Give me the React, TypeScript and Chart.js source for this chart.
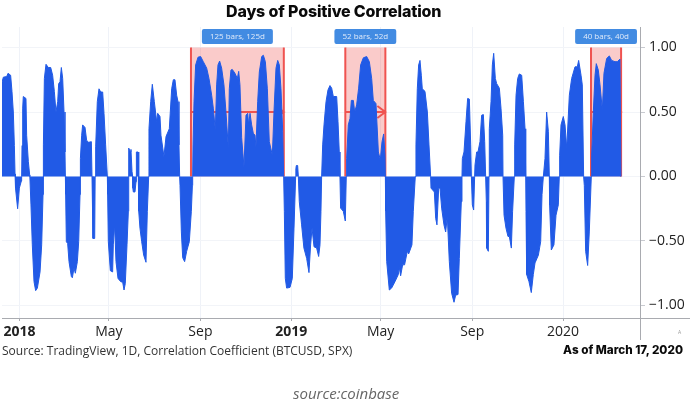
import { useEffect, useRef } from "react";
import { Chart, registerables } from "chart.js";

Chart.register(...registerables);

// days since 2018-01-01, vertices (one line per swing, same layout in both arrays)
const corrDays = [
  -24, -21.7, -17.2, -15.4, -11.9, -10.1, -8.3, -6.9, -6,
  -5.6, -5.1, -2.5, -0.2, 2.5, 2.9,
  3.4, 4.3, 5.1, 8.7, 9.6, 11.9, 13.7,
  13.9, 15.4, 17.2, 19.5, 21.7, 24, 27.6, 29.8, 31.6, 32,
  32.2, 33.4, 35.6, 38.7, 41.9, 44.5, 46.8, 49, 51.3, 52.6, 54.4, 56.2, 58, 59.8, 61.1, 61.6,
  62, 62.9, 64.7, 66.5, 69.6, 71, 73.2, 75, 77.7, 79.5, 81.3, 81.7,
  81.9, 83.5, 84.8, 88, 90.2, 92.9, 96.5, 97.4,
  98.7, 101, 101.6,
  101.9, 102.7, 104.5, 106.8, 109, 111.7, 113.5, 115.7, 118,
  118.4, 119.3, 122, 125.1, 126, 127.8, 129.6, 132.3, 135.9, 138.6, 140.4, 142.1, 144.4, 146.2, 146.6,
  146.8, 148.9, 149.7, 151.1, 152,
  152.2, 152.9, 155.1, 156.5, 156.9,
  157.1, 159.2, 160,
  160.3, 161.8, 164.1, 166.8, 169.9, 171.7, 173.5,
  173.9, 176.2, 178.4, 181.1, 184.2, 185.6, 188.7, 190, 194, 196.8, 201.2, 204.4, 206.6, 208.8, 211.1, 212.9, 214.2, 215.1,
  215.6, 217.4, 219.2, 221.8, 224.5, 228.1, 230.8, 232.2, 232.6,
  233.1, 234.4, 236.6, 239.8, 243.3, 246.9, 251.4, 254.5, 258.1, 260.3, 263, 264.8, 266.6, 268.8, 271.5, 274.6, 277.3, 280.5,
  281.8, 284, 285.8, 289.4, 292.6, 294.4, 296.1, 298.4, 301.5, 304.2, 306.5, 307.8, 309.6, 311.8, 314, 316.3, 317.6,
  319.9, 322.1, 325.3, 327.5, 330.2, 332.9, 335.5, 339.6, 341.8, 344.5, 346.8, 349, 351.2, 353.5, 354.8,
  355.7, 357, 358.8, 363.3, 366.4, 368.7, 370.9,
  371.2, 371.8, 373.6, 374.5,
  375.8, 378.9, 382, 385.7, 388.8, 391, 392.9, 395.6, 399.1, 401.8, 403.6, 404.9, 405.8,
  407.2, 409, 411.7, 414.3, 417, 419.3, 421.5, 426, 427.8, 429.5, 430.4,
  431.3, 434.9, 437.6, 438.9,
  439.4, 441.6, 443.9, 445.7, 448.4, 450.2, 452.8, 455.5, 458.2, 461.8, 466.3, 469.9, 473, 475.2, 478.8, 482, 484.6, 486.9, 489.1, 490.9, 491.4,
  491.8, 493.2, 496.7, 499.8, 504.3, 508.8, 510.1, 511.9, 514.6, 517.2, 520.9, 522.7, 527.1, 528.9, 531.6,
  532.5, 534.3, 536.1, 537.9, 539.7, 541, 544.6, 547.8, 550, 552.2,
  552.7, 554.9, 557.2, 559, 560.7, 563, 564.8, 567, 570.1, 572.4, 574.6, 577.3, 580.4, 583.6, 585.8, 589, 590.7, 593.4, 594.3,
  594.8, 597, 599.7, 601.9, 604.2, 606, 606.9,
  608.2, 610, 611.3,
  611.8, 614, 615.8, 618.5, 620.7, 623, 624.8, 626.1,
  627, 627.4, 629.7, 630.6,
  631, 633.3, 635.1, 636.9, 639.1, 640.9, 644.5, 646.7, 649, 649.4,
  650.8, 653.4, 656.1, 657.9, 660.6, 662.3, 664.6,
  665.1, 666.9, 669.1, 671.3, 674.5, 676.8, 679, 679.9,
  680.3, 681.2, 684.3, 687.4, 690.1, 692.4, 696.9, 700, 701.8, 703.6,
  705.8, 708, 710.3, 711.6,
  712, 714.3, 717.8, 720.6, 723.7, 725,
  725.5, 727.3, 730.4, 732.7, 735, 738.5, 741.6, 746.1, 749.2, 751, 754.2, 755.9, 757.7,
  758.6, 760.4, 763.1, 765.3, 768,
  768.5, 770.7, 773, 774.7, 777.4, 779.7, 782.8, 785, 788.6, 792.2, 795.3, 799.8, 802.9, 806.5, 807.8,
];
const corrValues = [
  0.72, 0.77, 0.775, 0.8, 0.785, 0.66, 0.5, 0.24, 0.02,
  0, -0.09, -0.25, -0.09, -0.035, 0,
  0.24, 0.53, 0.62, 0.605, 0.32, 0.115, 0.01,
  0, -0.22, -0.53, -0.815, -0.885, -0.865, -0.74, -0.53, -0.14, 0,
  0.245, 0.76, 0.87, 0.845, 0.845, 0.785, 0.66, 0.5, 0.58, 0.72, 0.735, 0.845, 0.76, 0.5, 0.19, 0,
  -0.14, -0.505, -0.52, -0.66, -0.775, -0.785, -0.71, -0.75, -0.66, -0.505, -0.14, 0,
  0.14, 0.32, 0.4, 0.38, 0.28, 0.265, 0.27, 0,
  -0.48, -0.48, 0,
  0.22, 0.23, 0.58, 0.68, 0.655, 0.655, 0.49, 0.245, 0,
  -0.14, -0.505, -0.73, -0.74, -0.53, -0.375, -0.66, -0.79, -0.815, -0.82, -0.88, -0.83, -0.53, -0.27, 0,
  0.22, 0.19, 0.21, 0.04, 0,
  -0.09, -0.12, -0.12, -0.04, 0,
  0.19, 0.19, 0,
  -0.27, -0.4, -0.505, -0.61, -0.665, -0.27, 0,
  0.37, 0.58, 0.715, 0.58, 0.425, 0.49, 0.465, 0.32, 0.155, 0.31, 0.37, 0.68, 0.75, 0.75, 0.63, 0.58, 0.245, 0,
  -0.07, -0.43, -0.63, -0.66, -0.58, -0.505, -0.27, -0.07, 0,
  0.245, 0.58, 0.865, 0.925, 0.93, 0.89, 0.84, 0.76, 0.63, 0.53, 0.36, 0.71, 0.865, 0.895, 0.84, 0.71, 0.5, 0.22,
  0.68, 0.825, 0.83, 0.8, 0.76, 0.815, 0.71, 0.3, 0.075, 0.475, 0.49, 0.4, 0.49, 0.4, 0.335, 0.32, 0.23,
  0.58, 0.81, 0.93, 0.94, 0.89, 0.68, 0.27, 0.165, 0.5, 0.84, 0.9, 0.865, 0.68, 0.35, 0,
  -0.27, -0.79, -0.865, -0.86, -0.79, -0.4, 0,
  0.06, 0.085, 0.085, 0,
  -0.195, -0.375, -0.555, -0.635, -0.745, -0.53, -0.4, -0.545, -0.555, -0.62, -0.53, -0.27, 0,
  0.245, 0.4, 0.58, 0.67, 0.705, 0.685, 0.62, 0.62, 0.425, 0.19, 0,
  -0.245, -0.27, -0.345, 0,
  0.14, 0.4, 0.45, 0.59, 0.59, 0.5, 0.555, 0.685, 0.865, 0.92, 0.93, 0.89, 0.76, 0.59, 0.565, 0.19, 0.13, 0.27, 0.33, 0.165, 0,
  -0.27, -0.66, -0.88, -0.865, -0.815, -0.76, -0.705, -0.77, -0.685, -0.685, -0.58, -0.6, -0.53, -0.27, 0,
  0.245, 0.68, 0.865, 0.9, 0.785, 0.68, 0.66, 0.5, 0.245, 0,
  -0.09, -0.105, -0.12, -0.325, -0.375, -0.09, -0.09, -0.245, -0.375, -0.43, -0.31, -0.66, -0.905, -0.975, -0.92, -0.915, -0.635, -0.195, 0,
  0.14, 0.19, 0.425, 0.605, 0.6, 0.245, 0,
  -0.22, -0.26, 0,
  0.09, 0.19, 0.19, 0.27, 0.475, 0.48, 0.27, 0,
  -0.195, -0.555, -0.58, 0,
  0.37, 0.58, 0.865, 0.955, 0.76, 0.72, 0.685, 0.53, 0.32, 0,
  -0.3, -0.4, -0.465, -0.465, -0.555, -0.27, 0,
  0.245, 0.63, 0.76, 0.795, 0.785, 0.58, 0.37, 0,
  -0.27, -0.76, -0.815, -0.9, -0.76, -0.67, -0.61, -0.505, -0.14, 0,
  0.14, 0.5, 0.35, 0,
  -0.22, -0.57, -0.53, -0.3, -0.22, 0,
  0.165, 0.4, 0.465, 0.4, 0.22, 0.63, 0.76, 0.85, 0.85, 0.9, 0.785, 0.71, 0,
  -0.07, -0.58, -0.69, -0.43, 0,
  0.165, 0.5, 0.785, 0.875, 0.825, 0.71, 0.515, 0.8, 0.915, 0.935, 0.9, 0.89, 0.89, 0.91, 0,
];

const xTickDays = [0, 120, 243, 365, 485, 608, 730];
const xTickLabels = ["2018", "May", "Sep", "2019", "May", "Sep", "2020"];
const yTickValues = [1, 0.5, 0, -0.5, -1];

// measured date ranges
const rangeStarts = [230.3, 437.6, 767.6];
const rangeEnds = [355, 491.4, 808];
const rangeLabels = ["125 bars, 125d", "52 bars, 52d", "40 bars, 40d"];

const FONT = '"Open Sans", sans-serif';
const RED = "#ef5350";

const rangesPlugin = {
  id: "ranges",
  beforeDatasetsDraw(chart: any) {
    const { ctx, scales } = chart;
    const y1 = scales.y.getPixelForValue(1);
    const y0 = scales.y.getPixelForValue(0);
    const yMid = scales.y.getPixelForValue(0.5);
    ctx.save();
    rangeStarts.forEach((start, i) => {
      const a = scales.x.getPixelForValue(start);
      const b = scales.x.getPixelForValue(rangeEnds[i]);
      ctx.fillStyle = "rgba(239, 83, 80, 0.3)";
      ctx.fillRect(a, y1, b - a, y0 - y1);
      ctx.strokeStyle = RED;
      ctx.lineWidth = 2;
      ctx.beginPath();
      ctx.moveTo(a, y1);
      ctx.lineTo(a, y0);
      ctx.moveTo(b, y1);
      ctx.lineTo(b, y0);
      ctx.moveTo(a, yMid);
      ctx.lineTo(b, yMid);
      ctx.moveTo(b - 8, yMid - 6);
      ctx.lineTo(b, yMid);
      ctx.lineTo(b - 8, yMid + 6);
      ctx.stroke();
    });
    ctx.restore();
  },
  afterDraw(chart: any) {
    const { ctx, scales, chartArea, width } = chart;
    ctx.save();
    // axis lines run past the plot area
    ctx.strokeStyle = "#a9abb0";
    ctx.lineWidth = 1;
    ctx.beginPath();
    ctx.moveTo(chartArea.left, chartArea.bottom + 0.5);
    ctx.lineTo(width, chartArea.bottom + 0.5);
    ctx.moveTo(chartArea.right + 0.5, chartArea.top);
    ctx.lineTo(chartArea.right + 0.5, 340);
    ctx.stroke();

    ctx.font = `8px ${FONT}`;
    ctx.textAlign = "center";
    ctx.textBaseline = "middle";
    rangeStarts.forEach((start, i) => {
      const mid = scales.x.getPixelForValue((start + rangeEnds[i]) / 2);
      const w = ctx.measureText(rangeLabels[i]).width + 16;
      ctx.fillStyle = "#428be2";
      ctx.beginPath();
      ctx.roundRect(mid - w / 2, 29, w, 15, 2);
      ctx.fill();
      ctx.fillStyle = "#dfeafa";
      ctx.fillText(rangeLabels[i], mid, 36.5);
    });
    ctx.restore();
  },
};

const textBase = { position: "absolute", whiteSpace: "nowrap", fontFamily: FONT, lineHeight: 1 } as const;

export default function App() {
  const chartRef = useRef<HTMLCanvasElement>(null);

  useEffect(() => {
    if (!chartRef.current) return;
    const chart = new Chart(chartRef.current, {
      type: "line",
      data: {
        datasets: [
          {
            data: corrDays.map((d, i) => ({ x: d, y: corrValues[i] })),
            backgroundColor: "#215ae6",
            borderColor: "#215ae6",
            borderWidth: 1,
            pointRadius: 0,
            tension: 0,
            fill: { value: 0 },
          },
        ],
      },
      options: {
        responsive: false,
        animation: false,
        layout: { padding: { left: 2, top: 27 } },
        plugins: { legend: { display: false }, tooltip: { enabled: false } },
        scales: {
          x: {
            type: "linear",
            min: -23.5,
            max: 833.4,
            afterFit: (axis: any) => {
              axis.height = 84;
            },
            afterBuildTicks: (axis: any) => {
              axis.ticks = xTickDays.map((value) => ({ value }));
            },
            border: { display: false },
            grid: { color: "#eff2f8", tickLength: 3, tickColor: "#a9abb0" },
            ticks: {
              maxRotation: 0,
              autoSkip: false,
              padding: 3,
              color: "#222",
              font: (c: any) => ({
                family: FONT,
                size: 14,
                weight: xTickLabels[c.index] === "2018" || xTickLabels[c.index] === "2019" ? "bold" : "normal",
              }),
              callback: (value: any) => xTickLabels[xTickDays.indexOf(value)],
            },
          },
          y: {
            position: "right",
            min: -1.097,
            max: 1.159,
            afterFit: (axis: any) => {
              axis.width = 50;
            },
            afterBuildTicks: (axis: any) => {
              axis.ticks = yTickValues.map((value) => ({ value }));
            },
            border: { display: false },
            grid: { color: "#f2f4f8", tickLength: 5, tickColor: "#c8cad0" },
            ticks: {
              padding: 4,
              color: "#222",
              font: { family: FONT, size: 14 },
              callback: (value: any) => (value < 0 ? "\u2212" : "") + Math.abs(value).toFixed(2),
            },
          },
        },
      },
      plugins: [rangesPlugin],
    } as any);
    return () => chart.destroy();
  }, []);

  return (
    <div style={{ position: "absolute", left: 0, top: 0, width: 690, height: 402, background: "#fff", overflow: "hidden" }}>
      <canvas ref={chartRef} width={690} height={402} style={{ display: "block" }}></canvas>
      <div style={{ ...textBase, left: 226, top: 3, fontFamily: "Inter, sans-serif", fontSize: 16, letterSpacing: -0.15, fontWeight: 800, color: "#0a0a0a" }}>
        Days of Positive Correlation
      </div>
      <div style={{ ...textBase, left: 2, top: 345, fontSize: 12, color: "#333" }}>
        Source: TradingView, 1D, Correlation Coefficient (BTCUSD, SPX)
      </div>
      <div style={{ ...textBase, right: 7, top: 345, fontFamily: "Inter, sans-serif", fontSize: 11.7, fontWeight: 800, color: "#0a0a0a" }}>
        As of March 17, 2020
      </div>
      <div style={{ ...textBase, left: 678, top: 330, fontSize: 5, color: "#999" }}>A</div>
      <div style={{ ...textBase, left: 293, top: 386, fontSize: 15, fontStyle: "italic", color: "#666" }}>source:coinbase</div>
    </div>
  );
}
